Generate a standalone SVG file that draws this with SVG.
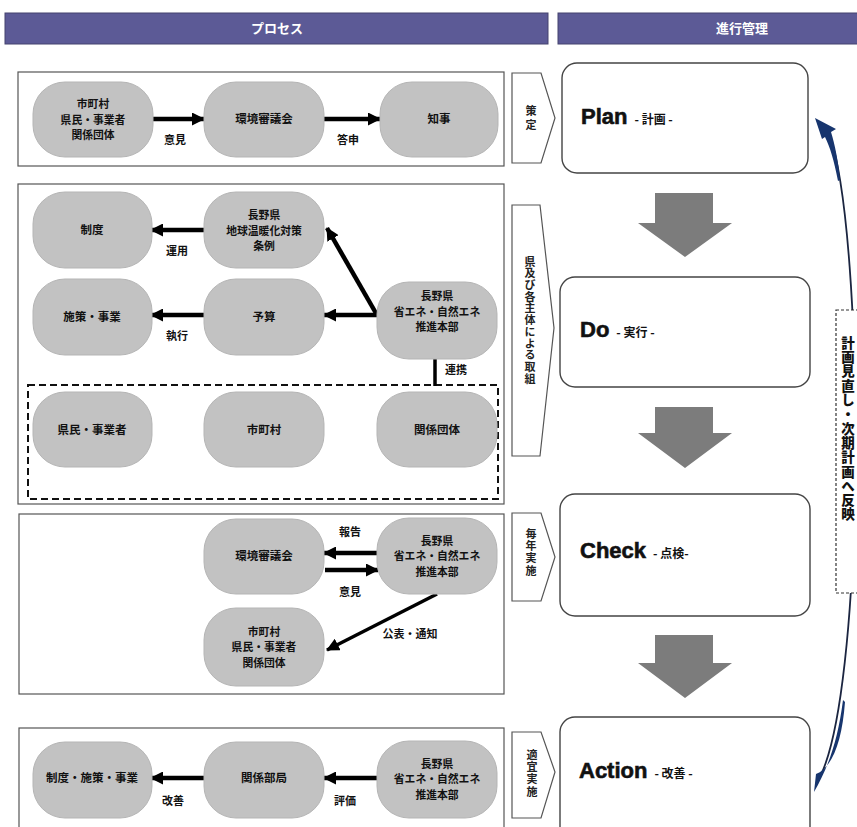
<svg xmlns="http://www.w3.org/2000/svg" width="857" height="827" viewBox="0 0 857 827">
<defs>
<marker id="ah" markerUnits="userSpaceOnUse" markerWidth="13" markerHeight="13" refX="12" refY="6.5" orient="auto">
<path d="M0,0 L13,6.5 L0,13 Z" fill="#000"/>
</marker>
<style>
.hdr{fill:#5c5a96;stroke:#44436e;stroke-width:1}
.ht{font-family:"Noto Sans CJK JP","Noto Sans",sans-serif;font-weight:bold;font-size:13px;fill:#fff;text-anchor:middle}
.sec{fill:#fff;stroke:#555;stroke-width:1.2}
.n{fill:#c2c2c2;stroke:#b5b5b5;stroke-width:1}
.t{font-family:"Noto Sans CJK JP","Noto Sans",sans-serif;font-weight:bold;font-size:11.5px;fill:#111;text-anchor:middle}
.t3{font-family:"Noto Sans CJK JP","Noto Sans",sans-serif;font-weight:bold;font-size:10.8px;fill:#111;text-anchor:middle}
.lb{font-family:"Noto Sans CJK JP","Noto Sans",sans-serif;font-weight:bold;font-size:11px;fill:#111;text-anchor:middle}
.side{fill:#fff;stroke:#555;stroke-width:1.2}
.st{font-family:"Noto Sans CJK JP","Noto Sans",sans-serif;font-weight:bold;font-size:11px;fill:#222;writing-mode:tb}
.pd{fill:#fff;stroke:#444;stroke-width:1.4}
.big{font-family:"Liberation Sans",Arial,sans-serif;font-weight:bold;font-size:22px;fill:#111;stroke:#111;stroke-width:0.6}
.sm{font-family:"Noto Sans CJK JP","Noto Sans",sans-serif;font-weight:bold;font-size:12px;fill:#111}
.da{fill:#7c7c7c}
.ar{stroke:#000;stroke-width:4.5;fill:none;marker-end:url(#ah)}
.vt{font-family:"Noto Sans CJK JP","Noto Sans",sans-serif;font-weight:900;font-size:13.5px;fill:#111;writing-mode:tb}
</style>
</defs>
<rect width="857" height="827" fill="#fff"/>

<!-- headers -->
<g id="header-process"><rect class="hdr" x="5" y="13" width="543" height="31"/><text class="ht" x="277" y="33">プロセス</text></g>
<g id="header-management"><rect class="hdr" x="558" y="13" width="305" height="31"/><text class="ht" x="742" y="33">進行管理</text></g>

<!-- section boxes -->
<g id="section-plan"><rect class="sec" x="18" y="72" width="486" height="94"/></g>
<g id="section-do"><rect class="sec" x="18" y="184" width="486" height="320"/>
<rect x="28" y="385" width="470" height="114" fill="none" stroke="#111" stroke-width="2" stroke-dasharray="7,4"/></g>
<g id="section-check"><rect class="sec" x="19" y="514" width="485" height="180"/></g>
<g id="section-action"><rect class="sec" x="19" y="728" width="485" height="110"/></g>

<!-- connectors -->
<g id="connectors">
<line class="ar" x1="153" y1="119" x2="204" y2="119"/>
<line class="ar" x1="324" y1="119" x2="380" y2="119"/>
<line class="ar" x1="204" y1="230" x2="151" y2="230"/>
<line class="ar" x1="204" y1="315" x2="151" y2="315"/>
<line class="ar" x1="377" y1="315" x2="324" y2="315"/>
<line class="ar" x1="377" y1="315" x2="327" y2="228"/>
<line x1="435" y1="358" x2="435" y2="386" stroke="#000" stroke-width="3.5"/>
<line class="ar" x1="377" y1="553" x2="324" y2="553"/>
<line class="ar" x1="325" y1="570" x2="378" y2="570"/>
<line class="ar" x1="437" y1="594" x2="327" y2="650" style="stroke-width:3.5"/>
<line class="ar" x1="377" y1="778" x2="324" y2="778"/>
<line class="ar" x1="204" y1="778" x2="151" y2="778"/>
<text class="lb" x="175" y="144">意見</text>
<text class="lb" x="348" y="144">答申</text>
<text class="lb" x="177" y="255">運用</text>
<text class="lb" x="177" y="340">執行</text>
<text class="lb" x="456" y="374">連携</text>
<text class="lb" x="350" y="536">報告</text>
<text class="lb" x="350" y="596">意見</text>
<text class="lb" x="410" y="638">公表・通知</text>
<text class="lb" x="173" y="805">改善</text>
<text class="lb" x="345" y="805">評価</text>
</g>

<!-- section 1 nodes -->
<g id="n-s1-citizens"><rect class="n" x="33" y="82" width="120" height="75" rx="32"/>
<text class="t3" y="108"><tspan x="93">市町村</tspan><tspan x="93" dy="15.7">県民・事業者</tspan><tspan x="93" dy="15.7">関係団体</tspan></text></g>
<g id="n-s1-council"><rect class="n" x="204" y="82" width="120" height="75" rx="32"/><text class="t" x="264" y="123">環境審議会</text></g>
<g id="n-s1-governor"><rect class="n" x="380" y="82" width="118" height="75" rx="32"/><text class="t" x="439" y="123">知事</text></g>

<!-- section 2 nodes -->
<g id="n-s2-seido"><rect class="n" x="33" y="192" width="119" height="76" rx="32"/><text class="t" x="92" y="234">制度</text></g>
<g id="n-s2-jorei"><rect class="n" x="204" y="192" width="120" height="76" rx="32"/>
<text class="t3" y="219"><tspan x="264">長野県</tspan><tspan x="264" dy="15.7">地球温暖化対策</tspan><tspan x="264" dy="15.7">条例</tspan></text></g>
<g id="n-s2-shisaku"><rect class="n" x="33" y="279" width="119" height="76" rx="32"/><text class="t" x="92" y="321">施策・事業</text></g>
<g id="n-s2-yosan"><rect class="n" x="204" y="279" width="120" height="76" rx="32"/><text class="t" x="264" y="321">予算</text></g>
<g id="n-s2-hq"><rect class="n" x="377" y="282" width="120" height="77" rx="32"/>
<text class="t3" y="300"><tspan x="437">長野県</tspan><tspan x="437" dy="15.7">省エネ・自然エネ</tspan><tspan x="437" dy="15.7">推進本部</tspan></text></g>
<g id="n-s2-kenmin"><rect class="n" x="33" y="392" width="119" height="75" rx="32"/><text class="t" x="92" y="434">県民・事業者</text></g>
<g id="n-s2-shichoson"><rect class="n" x="204" y="392" width="120" height="75" rx="32"/><text class="t" x="264" y="434">市町村</text></g>
<g id="n-s2-dantai"><rect class="n" x="377" y="392" width="120" height="75" rx="32"/><text class="t" x="437" y="434">関係団体</text></g>

<!-- section 3 nodes -->
<g id="n-s3-council"><rect class="n" x="204" y="519" width="120" height="75" rx="32"/><text class="t" x="264" y="560">環境審議会</text></g>
<g id="n-s3-hq"><rect class="n" x="377" y="518" width="120" height="76" rx="32"/>
<text class="t3" y="544.5"><tspan x="437">長野県</tspan><tspan x="437" dy="15.7">省エネ・自然エネ</tspan><tspan x="437" dy="15.7">推進本部</tspan></text></g>
<g id="n-s3-citizens"><rect class="n" x="204" y="608" width="120" height="78" rx="32"/>
<text class="t3" y="635.5"><tspan x="264">市町村</tspan><tspan x="264" dy="15.7">県民・事業者</tspan><tspan x="264" dy="15.7">関係団体</tspan></text></g>

<!-- section 4 nodes -->
<g id="n-s4-seido"><rect class="n" x="33" y="742" width="119" height="76" rx="32"/><text class="t" x="92" y="782">制度・施策・事業</text></g>
<g id="n-s4-bukyoku"><rect class="n" x="204" y="742" width="120" height="76" rx="32"/><text class="t" x="264" y="782">関係部局</text></g>
<g id="n-s4-hq"><rect class="n" x="377" y="741" width="120" height="77" rx="32"/>
<text class="t3" y="767.5"><tspan x="437">長野県</tspan><tspan x="437" dy="15.7">省エネ・自然エネ</tspan><tspan x="437" dy="15.7">推進本部</tspan></text></g>

<!-- side pentagons -->
<g id="side-sakutei"><path class="side" d="M512,73 L541,73 L555,118 L541,163 L512,163 Z"/>
<text class="st" x="531" y="105" style="letter-spacing:3px">策定</text></g>
<g id="side-torikumi"><path class="side" d="M512,205 L540,205 L554,328 L540,456 L512,456 Z"/>
<text class="st" x="530" y="256" style="letter-spacing:0.7px">県及び各主体による取組</text></g>
<g id="side-maitoshi"><path class="side" d="M512,513 L541,513 L555,557 L541,601 L512,601 Z"/>
<text class="st" x="531" y="528" style="letter-spacing:1.3px">毎年実施</text></g>
<g id="side-tekigi"><path class="side" d="M512,732 L541,732 L555,772 L541,818 L512,818 Z"/>
<text class="st" x="532" y="749" style="letter-spacing:1.3px">適宜実施</text></g>

<!-- PDCA boxes -->
<g id="plan"><rect class="pd" x="562" y="63" width="246" height="110" rx="15"/>
<text x="581" y="124"><tspan class="big">Plan</tspan><tspan class="sm" dx="7">- 計画 -</tspan></text></g>
<g id="do"><rect class="pd" x="560" y="277" width="250" height="110" rx="15"/>
<text x="580" y="337"><tspan class="big">Do</tspan><tspan class="sm" dx="7">- 実行 -</tspan></text></g>
<g id="check"><rect class="pd" x="560" y="494" width="250" height="122" rx="15"/>
<text x="580" y="558"><tspan class="big">Check</tspan><tspan class="sm" dx="7">- 点検-</tspan></text></g>
<g id="action"><rect class="pd" x="560" y="717" width="250" height="126" rx="15"/>
<text x="579" y="778"><tspan class="big">Action</tspan><tspan class="sm" dx="7">- 改善 -</tspan></text></g>

<!-- down arrows -->
<g id="down-arrows">
<polygon class="da" points="655,193 713,193 713,223 732,223 685,257 638,223 655,223"/>
<polygon class="da" points="655,407 713,407 713,433 732,433 685,468 638,433 655,433"/>
<polygon class="da" points="655,635 713,635 713,663 732,663 685,698 638,663 655,663"/>
</g>

<!-- feedback curve -->
<g id="feedback">
<path d="M817,782 C866,705 866,235 829,133" fill="none" stroke="#1b2540" stroke-width="1.8"/>
<path d="M814,792 C828,768 838,740 843,700 L845,702 C842,742 832,768 816,774 Z" fill="#17356e"/>
<path d="M815,118 L836,129 L831,132 C835,145 838,160 840,180 L838,181 C834,160 830,147 825,137 L822,139 Z" fill="#17356e"/>
<rect x="836" y="310" width="30" height="283" fill="#fff" stroke="#333" stroke-width="1.2" stroke-dasharray="3,2"/>
<text class="vt" x="848" y="336" style="letter-spacing:0.8px">計画見直し・次期計画へ反映</text>
</g>
</svg>
